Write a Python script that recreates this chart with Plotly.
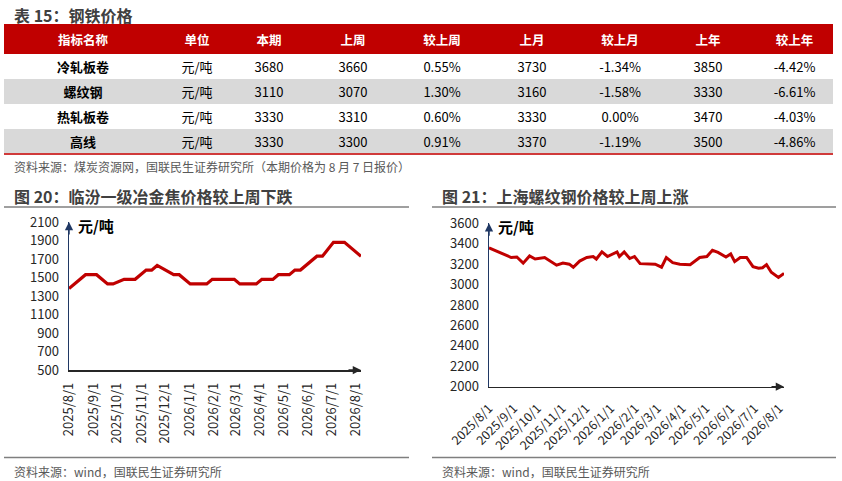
import plotly.graph_objects as go

FONT = "Noto Sans CJK SC, Noto Sans, sans-serif"
W, H = 842, 481

# ---------------- table data ----------------
tbl_headers = ["指标名称", "单位", "本期", "上周", "较上周", "上月", "较上月", "上年", "较上年"]
tbl_names = ["冷轧板卷", "螺纹钢", "热轧板卷", "高线"]
tbl_units = ["元/吨", "元/吨", "元/吨", "元/吨"]
tbl_this = ["3680", "3110", "3330", "3330"]
tbl_lastweek = ["3660", "3070", "3310", "3300"]
tbl_wow = ["0.55%", "1.30%", "0.60%", "0.91%"]
tbl_lastmonth = ["3730", "3160", "3330", "3370"]
tbl_mom = ["-1.34%", "-1.58%", "0.00%", "-1.19%"]
tbl_lastyear = ["3850", "3330", "3470", "3500"]
tbl_yoy = ["-4.42%", "-6.61%", "-4.03%", "-4.86%"]

# ---------------- chart 20: Linfen met coke ----------------
coke_dates = ["2025-08-01", "2025-08-22", "2025-09-05", "2025-09-19", "2025-09-26",
              "2025-10-10", "2025-10-24", "2025-11-07", "2025-11-14", "2025-11-21",
              "2025-12-12", "2025-12-19", "2026-01-02", "2026-01-23", "2026-01-30",
              "2026-02-27", "2026-03-06", "2026-03-27", "2026-04-03", "2026-04-17",
              "2026-04-24", "2026-05-08", "2026-05-15", "2026-05-22", "2026-06-12",
              "2026-06-19", "2026-07-03", "2026-07-17", "2026-08-07"]
coke_vals = [1380, 1530, 1530, 1430, 1430,
             1480, 1480, 1580, 1580, 1630,
             1530, 1530, 1430, 1430, 1480,
             1480, 1430, 1430, 1480, 1480,
             1530, 1530, 1580, 1580, 1730,
             1730, 1880, 1880, 1730]

# ---------------- chart 21: Shanghai rebar ----------------
rebar_dates = ["2025-08-01", "2025-08-29", "2025-09-05", "2025-09-13", "2025-09-21",
               "2025-09-28", "2025-10-10", "2025-10-25", "2025-11-02", "2025-11-10",
               "2025-11-15", "2025-11-23", "2025-12-02", "2025-12-10", "2025-12-14",
               "2025-12-21", "2025-12-28", "2026-01-09", "2026-01-12", "2026-01-18",
               "2026-01-25", "2026-01-31", "2026-02-07", "2026-02-26", "2026-03-06",
               "2026-03-12", "2026-03-20", "2026-03-29", "2026-04-11", "2026-04-23",
               "2026-05-02", "2026-05-09", "2026-05-16", "2026-05-26", "2026-06-01",
               "2026-06-06", "2026-06-13", "2026-06-21", "2026-06-29", "2026-07-06",
               "2026-07-11", "2026-07-16", "2026-07-22", "2026-07-31", "2026-08-07"]
rebar_vals = [3360, 3265, 3270, 3210, 3280,
              3250, 3265, 3190, 3210, 3200,
              3170, 3230, 3265, 3275, 3250,
              3320, 3275, 3320, 3275, 3320,
              3255, 3275, 3205, 3200, 3170,
              3265, 3215, 3200, 3195, 3265,
              3275, 3335, 3315, 3270, 3300,
              3225, 3265, 3265, 3175, 3160,
              3165, 3195, 3120, 3070, 3110]

month_ticks = ["2025-08-01", "2025-09-01", "2025-10-01", "2025-11-01", "2025-12-01",
               "2026-01-01", "2026-02-01", "2026-03-01", "2026-04-01", "2026-05-01",
               "2026-06-01", "2026-07-01", "2026-08-01"]
month_labels = ["2025/8/1", "2025/9/1", "2025/10/1", "2025/11/1", "2025/12/1",
                "2026/1/1", "2026/2/1", "2026/3/1", "2026/4/1", "2026/5/1",
                "2026/6/1", "2026/7/1", "2026/8/1"]
x_range = ["2025-08-01", "2026-08-07"]

# ---------------- layout constants ----------------
RED = "#C00000"
NAVY = "#203864"
DARK = "#262626"
TITLE_C = "#404040"
SRC_C = "#595959"
GREY_ROW = "#D9D9D9"

col_widths = [158, 70, 74, 94, 84, 96, 80, 96, 77]
row_heights = [30, 25, 25, 25, 25]
TEXT_DY = 2.5


def px(x):
    return x / W


def py(y):
    return 1 - y / H


col_edges = [0]
for w_ in col_widths:
    col_edges.append(col_edges[-1] + w_)
row_edges = [0]
for h_ in row_heights:
    row_edges.append(row_edges[-1] + h_)
col_centers = [(col_edges[i] + col_edges[i + 1]) / 2 for i in range(len(col_widths))]
row_centers = [(row_edges[i] + row_edges[i + 1]) / 2 + TEXT_DY for i in range(len(row_heights))]

fig = go.Figure()

# table cell fills (0 = header red, 1 = white, 2 = grey)
fill_codes = [[0] * 9, [1] * 9, [2] * 9, [1] * 9, [2] * 9]
fig.add_trace(go.Heatmap(
    x=col_edges, y=row_edges, z=fill_codes, zmin=0, zmax=2,
    colorscale=[[0, RED], [0.5, "#FFFFFF"], [1, GREY_ROW]],
    showscale=False, hoverinfo="skip", xaxis="x3", yaxis="y3"))

# header text
fig.add_trace(go.Scatter(
    x=col_centers, y=[row_centers[0]] * 9, mode="text",
    text=[f"<b>{h}</b>" for h in tbl_headers], textposition="middle center",
    textfont=dict(family=FONT, size=12.5, color="white"),
    hoverinfo="skip", xaxis="x3", yaxis="y3"))

# body text
columns = [[f"<b>{n}</b>" for n in tbl_names], tbl_units, tbl_this, tbl_lastweek,
           tbl_wow, tbl_lastmonth, tbl_mom, tbl_lastyear, tbl_yoy]
bx, by, bt = [], [], []
for ci, col in enumerate(columns):
    for ri, val in enumerate(col):
        bx.append(col_centers[ci])
        by.append(row_centers[ri + 1])
        bt.append(val)
fig.add_trace(go.Scatter(
    x=bx, y=by, mode="text", text=bt, textposition="middle center",
    textfont=dict(family=FONT, size=13, color="#000000"),
    hoverinfo="skip", xaxis="x3", yaxis="y3"))

# charts
fig.add_trace(go.Scatter(x=coke_dates, y=coke_vals, mode="lines",
                         line=dict(color=RED, width=3.2),
                         xaxis="x", yaxis="y", hoverinfo="skip"))
fig.add_trace(go.Scatter(x=rebar_dates, y=rebar_vals, mode="lines",
                         line=dict(color=RED, width=3),
                         xaxis="x2", yaxis="y2", hoverinfo="skip"))

common_x = dict(type="date", range=x_range, tickmode="array",
                tickvals=month_ticks, ticktext=month_labels,
                showline=True, linecolor=DARK, linewidth=1.5, automargin=False,
                showgrid=False, zeroline=False, ticks="", fixedrange=True)
common_y = dict(showline=True, linecolor=NAVY, linewidth=1.5, showgrid=False,
                zeroline=False, ticks="", dtick=200, fixedrange=True, automargin=False,
                tickfont=dict(family=FONT, size=13, color=DARK),
                ticklabelstandoff=6)
hidden = dict(showline=False, showgrid=False, zeroline=False, showticklabels=False,
              ticks="", fixedrange=True, automargin=False)

fig.update_layout(
    template="none",
    width=W, height=H, margin=dict(l=0, r=0, t=0, b=0, pad=0),
    paper_bgcolor="white", plot_bgcolor="rgba(0,0,0,0)", showlegend=False,
    font=dict(family=FONT, color=DARK),
    xaxis=dict(domain=[px(69), px(361)], anchor="y", tickangle=-90,
               tickfont=dict(family=FONT, size=13, color=DARK),
               ticklabelstandoff=6, **common_x),
    yaxis=dict(domain=[py(370), py(222)], anchor="x", range=[500, 2100],
               tick0=500, **common_y),
    xaxis2=dict(domain=[px(489), px(784)], anchor="y2", tickangle=-45,
                tickfont=dict(family=FONT, size=12.5, color=DARK),
                ticklabelstandoff=8, **common_x),
    yaxis2=dict(domain=[py(386.7), py(223.3)], anchor="x2", range=[2000, 3600],
                tick0=2000, **common_y),
    xaxis3=dict(domain=[px(4), px(4 + col_edges[-1])], anchor="y3",
                range=[0, col_edges[-1]], **hidden),
    yaxis3=dict(domain=[py(24 + row_edges[-1]), py(24)], anchor="x3",
                range=[row_edges[-1], 0], **hidden),
)

shapes = [
    # table bottom red line
    dict(type="line", xref="paper", yref="paper", x0=px(4), x1=px(833),
         y0=py(154), y1=py(154), line=dict(color="#D03A3A", width=2.2)),
    # chart title underlines
    dict(type="line", xref="paper", yref="paper", x0=px(4), x1=px(409),
         y0=py(207), y1=py(207), line=dict(color="#7F7F7F", width=1.5)),
    dict(type="line", xref="paper", yref="paper", x0=px(432), x1=px(836),
         y0=py(207), y1=py(207), line=dict(color="#7F7F7F", width=1.5)),
    # bottom lines
    dict(type="line", xref="paper", yref="paper", x0=px(4), x1=px(409),
         y0=py(457.5), y1=py(457.5), line=dict(color="#7F7F7F", width=1.5)),
    dict(type="line", xref="paper", yref="paper", x0=px(432), x1=px(836),
         y0=py(457.5), y1=py(457.5), line=dict(color="#7F7F7F", width=1.5)),
]
fig.update_layout(shapes=shapes)


def txt(x, y, s, size, color, bold=False, xanchor="left"):
    return dict(x=px(x), y=py(y), xref="paper", yref="paper",
                text=(f"<b>{s}</b>" if bold else s),
                showarrow=False, xanchor=xanchor, yanchor="middle",
                font=dict(family=FONT, size=size, color=color))


ann = [
    txt(12, 15, "表 15：钢铁价格", 16, TITLE_C, bold=True),
    txt(12, 166, "资料来源：煤炭资源网，国联民生证券研究所（本期价格为 8 月 7 日报价）", 12, SRC_C),
    txt(12, 196, "图 20：临汾一级冶金焦价格较上周下跌", 16, TITLE_C, bold=True),
    txt(440, 196, "图 21：上海螺纹钢价格较上周上涨", 16, TITLE_C, bold=True),
    txt(12, 471, "资料来源：wind，国联民生证券研究所", 12, SRC_C),
    txt(440, 471, "资料来源：wind，国联民生证券研究所", 12, SRC_C),
    txt(76, 225, "元/吨", 15, "#000000", bold=True),
    txt(496, 226, "元/吨", 15, "#000000", bold=True),
    # axis arrows
    dict(x=x_range[1], y=500, xref="x", yref="y", text="", showarrow=True,
         ax=-14, ay=0, arrowhead=2, arrowsize=1.1, arrowwidth=1.5, arrowcolor=DARK),
    dict(x=x_range[0], y=2100, xref="x", yref="y", text="", showarrow=True,
         ax=0, ay=14, arrowhead=2, arrowsize=1.1, arrowwidth=1.5, arrowcolor=NAVY),
    dict(x=x_range[1], y=2000, xref="x2", yref="y2", text="", showarrow=True,
         ax=-14, ay=0, arrowhead=2, arrowsize=1.1, arrowwidth=1.5, arrowcolor=DARK),
    dict(x=x_range[0], y=3600, xref="x2", yref="y2", text="", showarrow=True,
         ax=0, ay=14, arrowhead=2, arrowsize=1.1, arrowwidth=1.5, arrowcolor=NAVY),
]
fig.update_layout(annotations=ann)

fig.write_html("out.html",
               config={"displayModeBar": False, "staticPlot": True},
               post_script="document.body.style.margin='0';document.body.style.padding='0';")
